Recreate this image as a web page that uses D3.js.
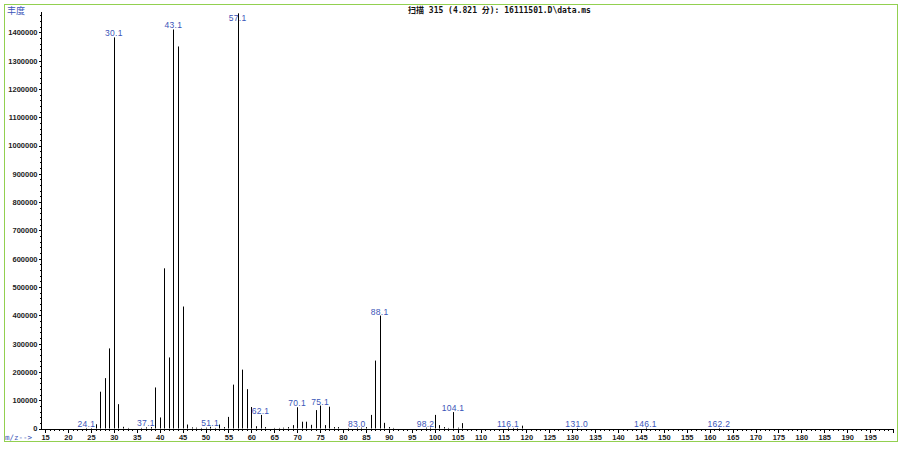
<!DOCTYPE html>
<html>
<head>
<meta charset="utf-8">
<script src="https://cdn.jsdelivr.net/npm/d3@7"></script>
<style>
  body { margin: 0; background: #fff; }
  .axis text { font-family: "Liberation Sans", Arial, sans-serif; font-size: 7.5px; font-weight: bold; fill: #222; }
  .axis path, .axis line { stroke: #000; shape-rendering: crispEdges; }
  .peak-label { font-family: "Liberation Sans", Arial, sans-serif; font-size: 8.5px; fill: #3a55b8; letter-spacing: 0.3px; }
</style>
</head>
<body>
<div id="chart"></div>
<script>
// m/z of each ion and its abundance
var mz = [24, 25, 26, 27, 28, 29, 30, 31, 32, 33, 36, 37, 38, 39, 40,
  41, 42, 43, 44, 45, 46, 47, 48, 49, 50, 51, 52, 53, 54, 55,
  56, 57, 58, 59, 60, 61, 62, 63, 65, 66, 67, 68, 69, 70, 71,
  72, 73, 74, 75, 76, 77, 78, 79, 81, 83, 84, 85, 86, 87, 88,
  89, 90, 91, 98, 99, 100, 101, 102, 103, 104, 105, 106, 116, 117, 118,
  119, 131, 146, 162];
var abundance = [2000, 1500, 15000, 130000, 178000, 283000, 1382000, 86000, 6000, 2000, 2000, 4000, 5000, 145000, 39000,
  566000, 251000, 1410000, 1350000, 431000, 14000, 4000, 3000, 2000, 3000, 6000, 2000, 14000, 5000, 41000,
  155000, 1467000, 208000, 139000, 76000, 8000, 48000, 5000, 2000, 2000, 3000, 5000, 12000, 75000, 24000,
  24000, 13000, 65000, 81000, 12000, 77000, 5000, 5000, 2000, 3000, 3000, 5000, 48000, 240000, 399000,
  20000, 5000, 2000, 3000, 3000, 48000, 12000, 5000, 2000, 58000, 3000, 19000, 3000, 2000, 2000,
  10000, 2000, 3000, 2000];

// labelled peaks
var labelMz = [24, 30, 37, 43, 51, 57, 62, 70, 75, 83, 88, 98, 104, 116, 131, 146, 162];
var labelText = ["24.1", "30.1", "37.1", "43.1", "51.1", "57.1", "62.1", "70.1", "75.1", "83.0", "88.1", "98.2", "104.1", "116.1", "131.0", "146.1", "162.2"];

var yTicks = [0, 100000, 200000, 300000, 400000, 500000, 600000, 700000, 800000, 900000,
  1000000, 1100000, 1200000, 1300000, 1400000];
var xTicks = d3.range(15, 200, 5);

var titleText = "扫描 315 (4.821 分): 16111501.D\\data.ms";

var width = 900;
var height = 450;

var svg = d3.select("#chart").append("svg")
  .attr("width", width)
  .attr("height", height);

/* green frame */
svg.append("rect")
  .attr("x", 4.5).attr("y", 4.5)
  .attr("width", 893).attr("height", 437)
  .attr("fill", "none")
  .attr("stroke", "#92d050");

/* Scale */
var xScale = d3.scaleLinear().domain([14.1, 200]).range([41, 893]);
var yScale = d3.scaleLinear().domain([0, 1470000]).range([428.5, 12.5]);

var lookup = {};
mz.forEach(function (m, i) { lookup[m] = abundance[i]; });

/* Axes */
var yMinor = svg.append("g")
  .attr("class", "axis")
  .attr("transform", "translate(41.5,0)")
  .call(d3.axisLeft(yScale).tickValues(d3.range(0, 1460001, 20000)).tickSize(1.5).tickFormat(""));
yMinor.select(".domain").remove();

svg.append("g")
  .attr("class", "axis")
  .attr("transform", "translate(41.5,0)")
  .call(d3.axisLeft(yScale).tickValues(yTicks).tickSize(3).tickPadding(1).tickSizeOuter(0)
    .tickFormat(d3.format("d")))
  .call(g => g.select(".domain").attr("d", "M0," + yScale(0) + "V" + 12));

var xMinor = svg.append("g")
  .attr("class", "axis")
  .attr("transform", "translate(0,428.5)")
  .call(d3.axisBottom(xScale).tickValues(d3.range(15, 201, 1)).tickSize(2).tickFormat(""));
xMinor.select(".domain").remove();

svg.append("g")
  .attr("class", "axis")
  .attr("transform", "translate(0,428.5)")
  .call(d3.axisBottom(xScale).tickValues(xTicks.concat([200])).tickSize(4).tickPadding(2).tickSizeOuter(0)
    .tickFormat(d => d < 200 ? d : ""));

/* peaks */
svg.append("g")
  .selectAll("line")
  .data(mz).enter()
  .append("line")
  .attr("x1", d => Math.round(xScale(d)) + 0.5)
  .attr("x2", d => Math.round(xScale(d)) + 0.5)
  .attr("y1", yScale(0))
  .attr("y2", (d, i) => yScale(abundance[i]))
  .attr("stroke", "#000")
  .attr("stroke-width", 1);

svg.append("g")
  .selectAll("text")
  .data(labelMz).enter()
  .append("text")
  .attr("class", "peak-label")
  .attr("text-anchor", "middle")
  .attr("x", d => xScale(d))
  .attr("y", d => Math.max(yScale(lookup[d]) - 1, 21))
  .text((d, i) => labelText[i]);

/* titles */
svg.append("text")
  .attr("x", 7).attr("y", 14)
  .style("font-family", "'Noto Sans CJK SC', sans-serif")
  .style("font-size", "9px")
  .style("fill", "#3a55b8")
  .text("丰度");

svg.append("text")
  .attr("x", 5).attr("y", 440)
  .style("font-family", "'DejaVu Sans Mono', monospace")
  .style("font-size", "7.5px")
  .style("fill", "#3a55b8")
  .text("m/z-->");

svg.append("text")
  .attr("x", 408).attr("y", 13)
  .style("font-family", "'DejaVu Sans Mono', 'Noto Sans CJK SC', monospace")
  .style("font-size", "8px")
  .style("font-weight", "bold")
  .style("fill", "#111")
  .text(titleText);
</script>
</body>
</html>
